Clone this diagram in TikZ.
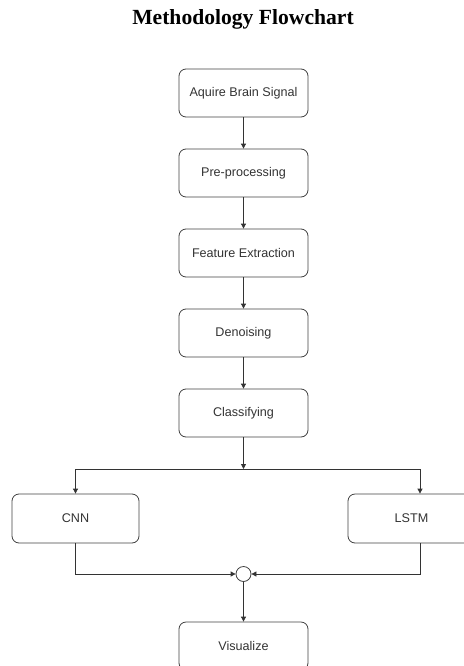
\documentclass[tikz,border=0pt]{standalone}
\usepackage{fontspec}
\setmainfont{Liberation Sans}
\newfontfamily\titlefont{Liberation Serif}
\usetikzlibrary{arrows.meta}

\begin{document}
\begin{tikzpicture}[x=1bp,y=-1bp,
  stepbox/.style={draw=black!75, rounded corners=7bp, minimum width=129bp,
    minimum height=48bp, inner sep=0pt, line width=0.8bp,
    font=\fontsize{12.6bp}{15bp}\selectfont, text=black!80},
  joinpt/.style={draw=black!75, circle, minimum size=15bp, inner sep=0pt, line width=0.8bp},
  flow/.style={draw=black!80, line width=0.8bp, -{Triangle[length=5bp,width=5bp]}}]
  \clip (0,0) rectangle (464,666);

  \node[font=\titlefont\bfseries\fontsize{21.6bp}{26bp}\selectfont] (title) at (243,19) {Methodology Flowchart};

  % main pipeline
  \node[stepbox] (acq)  at (243.5,93)  {Aquire Brain Signal};
  \node[stepbox] (pre)  at (243.5,173) {Pre-processing};
  \node[stepbox] (feat) at (243.5,253) {Feature Extraction};
  \node[stepbox] (den)  at (243.5,333) {Denoising};
  \node[stepbox] (cls)  at (243.5,413) {Classifying};

  % two model branches
  \node[stepbox, minimum width=127bp, minimum height=49bp] (cnn)  at (75.5,518.5)  {CNN};
  \node[stepbox, minimum width=127bp, minimum height=49bp] (lstm) at (411.5,518.5) {LSTM};

  \node[joinpt] (join) at (243.5,574) {};
  \node[stepbox] (vis) at (243.5,646) {Visualize};

  \coordinate (fork) at (243.5,469);

  \draw[flow] (acq)  -- (pre);
  \draw[flow] (pre)  -- (feat);
  \draw[flow] (feat) -- (den);
  \draw[flow] (den)  -- (cls);
  \draw[flow] (cls)  -- (fork);
  \draw[flow] (fork) -| (cnn.north);
  \draw[flow] (fork) -| ([xshift=8.5bp]lstm.north);
  \draw[flow] (cnn.south) |- (join.west);
  \draw[flow] ([xshift=8.5bp]lstm.south) |- (join.east);
  \draw[flow] (join) -- (vis);
\end{tikzpicture}
\end{document}
